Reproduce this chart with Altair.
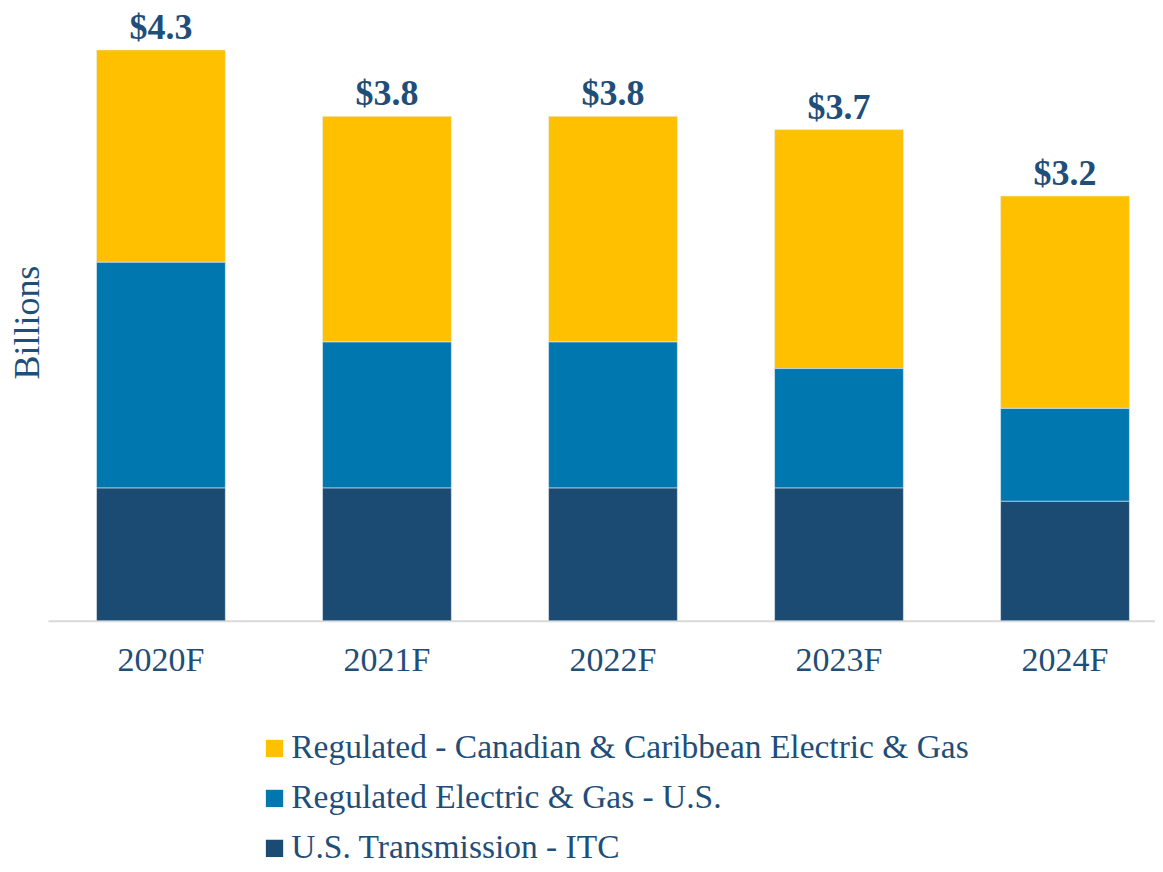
import altair as alt
import pandas as pd

years = ["2020F", "2021F", "2022F", "2023F", "2024F"]
series = [
    "Regulated - Canadian & Caribbean Electric & Gas",
    "Regulated Electric & Gas - U.S.",
    "U.S. Transmission - ITC",
]
canadian = [1.6, 1.7, 1.7, 1.8, 1.6]
us_regulated = [1.7, 1.1, 1.1, 0.9, 0.7]
itc = [1.0, 1.0, 1.0, 1.0, 0.9]
totals = [4.3, 3.8, 3.8, 3.7, 3.2]
total_labels = ["$4.3", "$3.8", "$3.8", "$3.7", "$3.2"]
colors = ["#FFC000", "#0077AE", "#1B4A72"]
stack_rank = [2, 1, 0]

rows = []
for vals, name, rank in zip([canadian, us_regulated, itc], series, stack_rank):
    for y, v in zip(years, vals):
        rows.append({"year": y, "series": name, "value": v, "rank": rank})
df = pd.DataFrame(rows)
tot = pd.DataFrame({"year": years, "total": totals, "label": total_labels})

TEXT = "#1F4E79"
FONT = "Liberation Serif"

xscale = alt.Scale(paddingInner=0.43, paddingOuter=0.164, align=0.655)

bars = alt.Chart(df).mark_bar(stroke="#e8eef3", strokeWidth=0.6).encode(
    x=alt.X("year:N", sort=years, scale=xscale,
            axis=alt.Axis(title=None, labelAngle=0, ticks=False,
                          domainColor="#D9D9D9", domainWidth=2,
                          labelFont=FONT, labelFontSize=34, labelColor=TEXT,
                          labelPadding=23)),
    y=alt.Y("value:Q", stack="zero",
            scale=alt.Scale(domain=[0, 4.5], nice=False),
            axis=alt.Axis(title="Billions", labels=False, ticks=False, grid=False,
                          domain=False, titleFont=FONT, titleFontSize=36,
                          titleFontWeight="normal", titleColor=TEXT,
                          titlePadding=1)),
    color=alt.Color("series:N", sort=series,
                    scale=alt.Scale(domain=series, range=colors),
                    legend=alt.Legend(title=None, orient="none",
                                      legendX=210, legendY=709,
                                      symbolType="square", symbolSize=300,
                                      symbolStrokeWidth=0,
                                      labelFont=FONT, labelFontSize=33.5,
                                      labelColor=TEXT, labelLimit=1000,
                                      rowPadding=15, symbolOffset=0,
                                      labelOffset=0, direction="vertical")),
    order=alt.Order("rank:Q"),
)

labels = alt.Chart(tot).mark_text(
    baseline="bottom", dy=-3, font=FONT, fontSize=36, fontWeight="bold", color=TEXT
).encode(
    x=alt.X("year:N", sort=years, scale=xscale),
    y=alt.Y("total:Q"),
    text="label:N",
)

chart = alt.layer(bars, labels).properties(
    width=1108, height=598,
    background="white",
    autosize=alt.AutoSizeParams(type="none"),
    padding={"left": 40, "top": 15, "right": 0, "bottom": 243},
).configure_view(stroke=None)

chart.save("out.html", embed_options={"renderer": "svg", "actions": False})
